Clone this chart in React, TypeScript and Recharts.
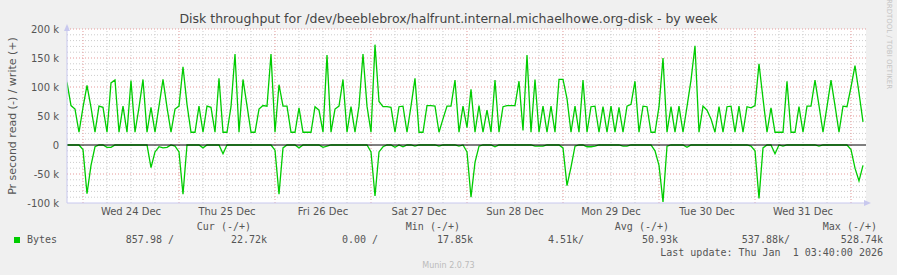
import React from 'react';
import { LineChart, Line, XAxis, YAxis, ReferenceLine, ReferenceDot } from 'recharts';

// hour 0 = Wed 24 Dec 00:00, one reading per hour from -4 to 195
const startHour = -4;

// write (+) in kB/s
const writeK = [
  108, 68, 62, 22, 65, 103, 65, 22, 67, 65,
  22, 107, 112, 22, 67, 22, 111, 22, 65, 113,
  22, 65, 22, 67, 113, 65, 22, 62, 67, 135,
  70, 22, 22, 67, 22, 67, 65, 22, 115, 22,
  22, 66, 157, 22, 113, 68, 22, 22, 62, 68,
  67, 157, 22, 104, 67, 67, 22, 22, 64, 22,
  22, 22, 66, 60, 22, 155, 22, 62, 67, 113,
  22, 66, 22, 67, 157, 67, 22, 173, 75, 66,
  66, 65, 22, 66, 67, 22, 67, 115, 22, 22,
  68, 68, 67, 22, 45, 67, 67, 112, 22, 67,
  30, 96, 22, 68, 22, 60, 22, 112, 22, 66,
  68, 68, 68, 110, 25, 155, 22, 113, 22, 67,
  22, 67, 22, 113, 113, 80, 22, 67, 22, 112,
  22, 66, 67, 22, 66, 22, 67, 22, 65, 22,
  67, 70, 110, 22, 67, 66, 22, 22, 66, 150,
  22, 66, 22, 67, 22, 66, 112, 171, 22, 67,
  60, 45, 22, 66, 22, 66, 67, 22, 67, 22,
  66, 64, 68, 140, 80, 22, 64, 22, 22, 22,
  110, 22, 22, 66, 22, 67, 67, 112, 68, 22,
  66, 112, 68, 22, 67, 66, 100, 137, 90, 40,
];

// read (-) in kB/s, drawn below zero
const readK = [
  0, 0, 0, 0, 8, 84, 35, 3, 0, 0,
  4, 4, 0, 0, 0, 0, 0, 0, 0, 0,
  0, 39, 12, 3, 5, 4, 0, 2, 12, 85,
  0, 0, 0, 0, 5, 0, 0, 0, 0, 15,
  0, 0, 0, 0, 0, 0, 0, 0, 0, 0,
  0, 0, 9, 85, 5, 0, 0, 0, 5, 0,
  0, 0, 0, 0, 4, 2, 0, 0, 0, 0,
  0, 0, 0, 0, 0, 0, 12, 88, 12, 3,
  0, 0, 4, 0, 3, 0, 0, 2, 0, 0,
  0, 0, 0, 2, 0, 0, 0, 0, 2, 0,
  12, 90, 30, 2, 0, 0, 0, 3, 0, 0,
  0, 0, 0, 0, 0, 0, 0, 2, 2, 2,
  0, 0, 0, 0, 5, 70, 38, 2, 0, 0,
  3, 3, 2, 0, 0, 0, 0, 0, 0, 2,
  2, 0, 0, 0, 0, 0, 0, 10, 35, 98,
  2, 0, 0, 0, 0, 4, 0, 0, 0, 0,
  0, 0, 0, 0, 0, 0, 0, 0, 0, 0,
  0, 2, 10, 92, 5, 0, 0, 15, 0, 2,
  0, 0, 0, 0, 0, 0, 0, 0, 2, 0,
  0, 0, 0, 0, 0, 0, 8, 40, 62, 35,
];

const dayLabels = ['Wed 24 Dec', 'Thu 25 Dec', 'Fri 26 Dec', 'Sat 27 Dec', 'Sun 28 Dec', 'Mon 29 Dec', 'Tue 30 Dec', 'Wed 31 Dec'];
const dayLabelHours = [12, 36, 60, 84, 108, 132, 156, 180];
const yTicks = [-100, -50, 0, 50, 100, 150, 200];

const legendHeaders = ['Cur (-/+)', 'Min (-/+)', 'Avg (-/+)', 'Max (-/+)'];
const legendValues = ['857.98 /', '22.72k', '0.00 /', '17.85k', '4.51k/', '50.93k', '537.88k/', '528.74k'];

const data = writeK.map((w, i) => ({ h: startHour + i, write: w, read: -readK[i] }));

const X_MAX = 195.75;
const GREEN = '#00cc00';
const MINOR = '#cccccc';
const MAJOR = '#e59a9a';
const AXIS = '#c8c8ee';
const MONO = '"DejaVu Sans Mono", monospace';
const SANS = '"DejaVu Sans", sans-serif';

const vMinor: number[] = [];
const vMajor: number[] = [];
for (let h = 0; h <= 192; h += 6) (h % 24 === 0 ? vMajor : vMinor).push(h);
const hMinor: number[] = [];
const hMajor: number[] = [];
for (let k = -90; k <= 200; k += 10) {
  if (k === 0) continue;
  (k % 50 === 0 ? hMajor : hMinor).push(k);
}

const Text: React.FC<{ x: number; y: number; right?: boolean; style?: React.CSSProperties; children: React.ReactNode }> = ({ x, y, right, style, children }) => (
  <div
    style={{
      position: 'absolute',
      top: y,
      left: right ? undefined : x,
      right: right ? 897 - x : undefined,
      whiteSpace: 'pre',
      lineHeight: '12px',
      fontFamily: MONO,
      fontSize: 10,
      color: '#555',
      ...style,
    }}
  >
    {children}
  </div>
);

const headerRight = [251, 460, 669, 877];
const valueRight = [174, 267, 378, 473, 584, 678, 790, 883];

export default function App() {
  return (
    <div style={{ position: 'relative', width: 897, height: 275, background: '#f0f0f0', overflow: 'hidden' }}>
      <style>{'body{margin:0}'}</style>
      {/* white plot canvas behind the svg */}
      <div style={{ position: 'absolute', left: 67, top: 29, width: 799, height: 174, background: '#fff' }} />
      <div style={{ position: 'absolute', left: 0, top: 0 }}>
        <LineChart width={897} height={275} data={data} margin={{ top: 29, right: 31, left: 7, bottom: 42 }}>
          <XAxis
            dataKey="h"
            type="number"
            domain={[startHour, X_MAX]}
            ticks={dayLabelHours}
            tickFormatter={(v: number) => dayLabels[dayLabelHours.indexOf(v)] ?? ''}
            tickLine={false}
            tickSize={3}
            tickMargin={2}
            height={30}
            axisLine={{ stroke: AXIS }}
            tick={{ fill: '#555', fontSize: 10, fontFamily: SANS }}
            allowDataOverflow
          />
          <YAxis
            type="number"
            domain={[-100, 200]}
            ticks={yTicks}
            tickFormatter={(v: number) => (v === 0 ? '0' : `${v} k`)}
            tickLine={false}
            width={60}
            axisLine={{ stroke: AXIS }}
            tick={{ fill: '#555', fontSize: 10, fontFamily: SANS }}
            allowDataOverflow
          />
          {hMinor.map((k) => (
            <ReferenceLine key={`hm${k}`} y={k} stroke={MINOR} strokeDasharray="1 2" />
          ))}
          {vMinor.map((h) => (
            <ReferenceLine key={`vm${h}`} x={h} stroke={MINOR} strokeDasharray="1 2" />
          ))}
          {hMajor.map((k) => (
            <ReferenceLine key={`hM${k}`} y={k} stroke={MAJOR} strokeDasharray="1 2" />
          ))}
          {vMajor.map((h) => (
            <ReferenceLine key={`vM${h}`} x={h} stroke={MAJOR} strokeDasharray="1 2" />
          ))}
          <Line type="linear" dataKey="read" stroke={GREEN} strokeWidth={1.3} dot={false} activeDot={false} isAnimationActive={false} />
          <Line type="linear" dataKey="write" stroke={GREEN} strokeWidth={1.3} dot={false} activeDot={false} isAnimationActive={false} />
          <ReferenceLine y={0} stroke="#000" strokeWidth={1} />
          <ReferenceDot
            x={startHour}
            y={200}
            ifOverflow="visible"
            shape={(p: any) => <path d={`M${p.cx - 3},${p.cy + 2} L${p.cx},${p.cy - 5} L${p.cx + 3},${p.cy + 2} Z`} fill={AXIS} />}
          />
          <ReferenceDot
            x={X_MAX}
            y={-100}
            ifOverflow="visible"
            shape={(p: any) => <path d={`M${p.cx - 2},${p.cy - 3} L${p.cx + 5},${p.cy} L${p.cx - 2},${p.cy + 3} Z`} fill={AXIS} />}
          />
        </LineChart>
      </div>

      <div style={{ position: 'absolute', top: 12, left: 0, width: 897, textAlign: 'center', fontFamily: SANS, fontSize: 12.5, color: '#444', lineHeight: '14px' }}>
        Disk throughput for /dev/beeblebrox/halfrunt.internal.michaelhowe.org-disk - by week
      </div>
      <div
        style={{
          position: 'absolute', left: 12, top: 116, transform: 'translate(-50%, -50%) rotate(-90deg)',
          fontFamily: SANS, fontSize: 11, color: '#555', whiteSpace: 'nowrap',
        }}
      >
        Pr second read (-) / write (+)
      </div>
      <div
        style={{
          position: 'absolute', left: 889, top: 44, transform: 'translate(-50%, -50%) rotate(90deg)',
          fontFamily: SANS, fontSize: 7, color: '#c4c4c4', whiteSpace: 'nowrap',
        }}
      >
        RRDTOOL / TOBI OETIKER
      </div>

      {legendHeaders.map((t, i) => (
        <Text key={t} x={headerRight[i]} y={221} right>{t}</Text>
      ))}
      <div style={{ position: 'absolute', left: 14, top: 237, width: 6, height: 6, background: GREEN }} />
      <Text x={27} y={234}>Bytes</Text>
      {legendValues.map((t, i) => (
        <Text key={t} x={valueRight[i]} y={234} right>{t}</Text>
      ))}
      <Text x={883} y={247} right>Last update: Thu Jan  1 03:40:00 2026</Text>
      <div style={{ position: 'absolute', top: 261, left: 0, width: 897, textAlign: 'center', fontFamily: SANS, fontSize: 8, color: '#bbb' }}>
        Munin 2.0.73
      </div>
    </div>
  );
}
